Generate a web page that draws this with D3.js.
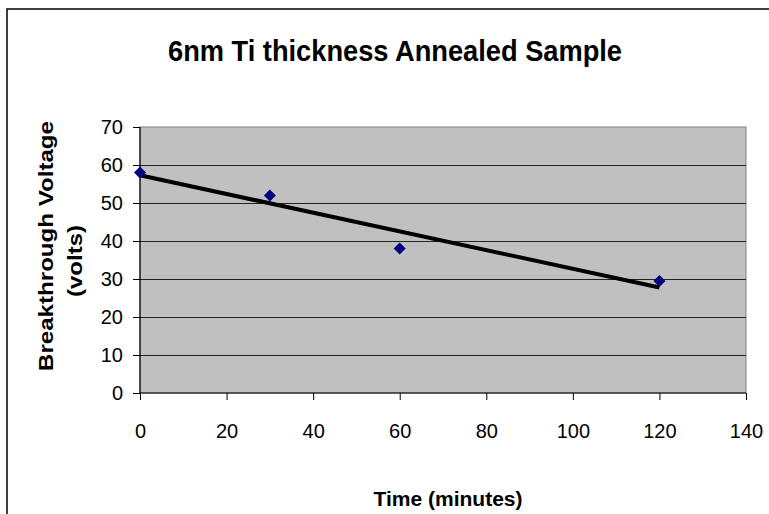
<!DOCTYPE html>
<html>
<head>
<meta charset="utf-8">
<script src="https://cdn.jsdelivr.net/npm/d3@7"></script>
<style>
  body { margin: 0; background: #fff; }
  text { font-family: "Liberation Sans", Arial, sans-serif; fill: #000; }
</style>
</head>
<body>
<div id="chart-div"></div>
<script>
// data
const times = [0, 30, 60, 120]
const voltages = [58, 52, 38, 29.5]
const xTicks = [0, 20, 40, 60, 80, 100, 120, 140]
const yTicks = [0, 10, 20, 30, 40, 50, 60, 70]

const WIDTH = 769
const HEIGHT = 514
const PLOT_LEFT = 140
const PLOT_RIGHT = 746
const PLOT_TOP = 127
const PLOT_BOTTOM = 393

const svg = d3.select("#chart-div").append("svg")
  .attr("width", WIDTH)
  .attr("height", HEIGHT)

// outer chart frame (only top + left visible in the picture)
svg.append("rect")
  .attr("x", 7).attr("y", 9)
  .attr("width", 900).attr("height", 700)
  .attr("fill", "none").attr("stroke", "#000").attr("stroke-width", 1.5)

const x = d3.scaleLinear().domain([0, 140]).range([PLOT_LEFT, PLOT_RIGHT])
const y = d3.scaleLinear().domain([0, 70]).range([PLOT_BOTTOM, PLOT_TOP])

// plot area
svg.append("rect")
  .attr("x", PLOT_LEFT).attr("y", PLOT_TOP)
  .attr("width", PLOT_RIGHT - PLOT_LEFT).attr("height", PLOT_BOTTOM - PLOT_TOP)
  .attr("fill", "#c0c0c0").attr("stroke", "#808080").attr("stroke-width", 1)

// gridlines
svg.append("g").selectAll("line")
  .data(yTicks.filter(d => d > 0 && d < 70))
  .enter().append("line")
  .attr("x1", PLOT_LEFT).attr("x2", PLOT_RIGHT)
  .attr("y1", d => Math.round(y(d)) + 0.5).attr("y2", d => Math.round(y(d)) + 0.5)
  .attr("stroke", "#222").attr("stroke-width", 1)

// axes
const xAxis = svg.append("g")
  .attr("transform", `translate(0,${PLOT_BOTTOM})`)
  .call(d3.axisBottom(x).tickValues(xTicks).tickSize(7).tickPadding(24).tickFormat(d3.format("d")))
const yAxis = svg.append("g")
  .attr("transform", `translate(${PLOT_LEFT},0)`)
  .call(d3.axisLeft(y).tickValues(yTicks).tickSize(7).tickPadding(10).tickFormat(d3.format("d")))

for (let ax of [xAxis, yAxis]) {
  ax.select(".domain").attr("stroke", "#000").attr("stroke-width", 1.2)
  ax.selectAll(".tick line").attr("stroke", "#000")
  ax.selectAll(".tick text")
    .style("font-family", "'Liberation Sans', Arial, sans-serif")
    .style("font-size", "20px")
    .attr("fill", "#000")
}
yAxis.select(".domain").attr("d", `M0,${PLOT_TOP}V${PLOT_BOTTOM}`)
xAxis.select(".domain").attr("d", `M${PLOT_LEFT},0H${PLOT_RIGHT}`)

// linear trendline (least squares)
const n = times.length
const mx = d3.mean(times)
const my = d3.mean(voltages)
let sxy = 0, sxx = 0
for (let i = 0; i < n; i++) {
  sxy += (times[i] - mx) * (voltages[i] - my)
  sxx += (times[i] - mx) * (times[i] - mx)
}
const slope = sxy / sxx
const intercept = my - slope * mx
const xMin = d3.min(times), xMax = d3.max(times)

svg.append("line")
  .attr("x1", x(xMin)).attr("y1", y(intercept + slope * xMin))
  .attr("x2", x(xMax)).attr("y2", y(intercept + slope * xMax))
  .attr("stroke", "#000").attr("stroke-width", 4)

// markers
svg.append("g").selectAll("path")
  .data(times.map((t, i) => ({ t: t, v: voltages[i] })))
  .enter().append("path")
  .attr("d", d3.symbol().type(d3.symbolSquare).size(72))
  .attr("transform", d => `translate(${x(d.t)},${y(d.v)}) rotate(45)`)
  .attr("fill", "#000080")

// title (condensed like the original)
svg.append("text")
  .attr("x", 395).attr("y", 61)
  .attr("text-anchor", "middle")
  .attr("textLength", 454).attr("lengthAdjust", "spacingAndGlyphs")
  .style("font-size", "29px").style("font-weight", "bold")
  .text("6nm Ti thickness Annealed Sample")

// x axis title
svg.append("text")
  .attr("x", 448).attr("y", 506)
  .attr("text-anchor", "middle")
  .attr("textLength", 149).attr("lengthAdjust", "spacingAndGlyphs")
  .style("font-size", "20px").style("font-weight", "bold")
  .text("Time (minutes)")

// y axis title, two lines
const yTitle = svg.append("g")
  .attr("transform", `translate(0,${(PLOT_TOP + PLOT_BOTTOM) / 2}) rotate(-90)`)
yTitle.append("text")
  .attr("x", 14).attr("y", 53)
  .attr("text-anchor", "middle")
  .attr("textLength", 250).attr("lengthAdjust", "spacingAndGlyphs")
  .style("font-size", "21px").style("font-weight", "bold")
  .text("Breakthrough Voltage")
yTitle.append("text")
  .attr("x", -1).attr("y", 82)
  .attr("text-anchor", "middle")
  .attr("textLength", 72).attr("lengthAdjust", "spacingAndGlyphs")
  .style("font-size", "21px").style("font-weight", "bold")
  .text("(volts)")
</script>
</body>
</html>
